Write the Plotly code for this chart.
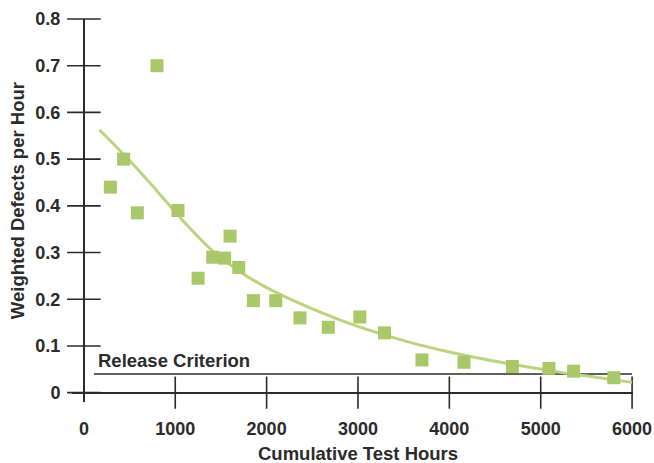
import plotly.graph_objects as go

# Observed data (cumulative test hours, weighted defects per hour)
hours = [290, 435, 585, 800, 1030, 1250, 1410, 1540, 1600, 1695, 1855, 2100,
         2365, 2675, 3020, 3290, 3700, 4160, 4690, 5090, 5360, 5800]
defects = [0.44, 0.50, 0.385, 0.70, 0.39, 0.245, 0.29, 0.288, 0.335, 0.268, 0.197, 0.197,
           0.16, 0.14, 0.162, 0.128, 0.07, 0.065, 0.056, 0.052, 0.046, 0.032]

# Fitted trend curve
fit_hours = [170, 500, 800, 1100, 1400, 1700, 2000, 2400, 2800, 3200, 3600, 4000,
             4400, 4800, 5200, 5600, 6000]
fit_defects = [0.563, 0.497, 0.432, 0.365, 0.305, 0.260, 0.225, 0.188, 0.156, 0.129, 0.106, 0.087,
               0.071, 0.057, 0.044, 0.033, 0.022]

# Release criterion
release_hours = [110, 6000]
release_level = [0.04, 0.04]
release_label = "Release Criterion"

x_ticks = [0, 1000, 2000, 3000, 4000, 5000, 6000]
x_ticktext = ["0", "1000", "2000", "3000", "4000", "5000", "6000"]
y_ticks = [0, 0.1, 0.2, 0.3, 0.4, 0.5, 0.6, 0.7, 0.8]
y_ticktext = ["0", "0.1", "0.2", "0.3", "0.4", "0.5", "0.6", "0.7", "0.8"]

x_title = "Cumulative Test Hours"
y_title = "Weighted Defects per Hour"

AXC = "#2b2b2b"
PT = "#a8c86a"
CURVE = "#bcd47f"
FONT = "Liberation Sans, Arial, sans-serif"
FS = 18.5
TFS = 18

fig = go.Figure()

# crossing tick marks drawn as line markers on the axes
fig.add_trace(go.Scatter(
    x=[0] * len(y_ticks), y=y_ticks, mode="markers", cliponaxis=False,
    marker=dict(symbol="line-ew", size=24, line=dict(color=AXC, width=1.6)),
    hoverinfo="skip", showlegend=False))
fig.add_trace(go.Scatter(
    x=x_ticks[1:], y=[0] * (len(x_ticks) - 1), mode="markers", cliponaxis=False,
    marker=dict(symbol="line-ns", size=23, line=dict(color=AXC, width=1.6)),
    hoverinfo="skip", showlegend=False))

# release criterion line
fig.add_trace(go.Scatter(
    x=release_hours, y=release_level, mode="lines",
    line=dict(color=AXC, width=1.6), hoverinfo="skip", showlegend=False))

# fitted curve
fig.add_trace(go.Scatter(
    x=fit_hours, y=fit_defects, mode="lines", line_shape="spline",
    line=dict(color=CURVE, width=3), showlegend=False))

# data points
fig.add_trace(go.Scatter(
    x=hours, y=defects, mode="markers", cliponaxis=False,
    marker=dict(symbol="square", size=13, color=PT, line=dict(width=0)),
    showlegend=False))

fig.add_annotation(x=release_hours[0] + 20, y=0.068, xref="x", yref="y",
                   text="<b>" + release_label + "</b>", showarrow=False,
                   xanchor="left", yanchor="middle",
                   font=dict(family=FONT, size=FS, color=AXC))

fig.add_annotation(x=3000, y=0, xref="x", yref="paper", yshift=-51,
                   text="<b>" + x_title + "</b>", showarrow=False,
                   xanchor="center", yanchor="middle",
                   font=dict(family=FONT, size=FS, color=AXC))

fig.add_annotation(x=0, y=0.41, xref="paper", yref="y", xshift=-55,
                   text="<b>" + y_title + "</b>", showarrow=False, textangle=-90,
                   xanchor="center", yanchor="middle",
                   font=dict(family=FONT, size=FS, color=AXC))

fig.update_layout(
    width=654, height=463,
    margin=dict(l=72, r=21, t=19, b=61, autoexpand=False),
    plot_bgcolor="white", paper_bgcolor="white",
    font=dict(family=FONT, size=FS, color=AXC),
    showlegend=False,
)
fig.update_xaxes(
    range=[-130, 6010], showgrid=False, showline=False, automargin=False,
    zeroline=True, zerolinecolor=AXC, zerolinewidth=1.6,
    tickmode="array", tickvals=x_ticks, ticktext=["<b>" + t + "</b>" for t in x_ticktext],
    ticks="outside", ticklen=10, tickcolor="rgba(0,0,0,0)", ticklabeloverflow="allow",
    tickfont=dict(family=FONT, size=TFS, color=AXC))
fig.update_yaxes(
    range=[-0.02, 0.8], showgrid=False, showline=False, automargin=False,
    zeroline=True, zerolinecolor=AXC, zerolinewidth=1.6,
    tickmode="array", tickvals=y_ticks, ticktext=["<b>" + t + "</b>" for t in y_ticktext],
    ticks="outside", ticklen=7, tickcolor="rgba(0,0,0,0)", ticklabeloverflow="allow",
    tickfont=dict(family=FONT, size=TFS, color=AXC))

# remove the page's default body margin so the figure fills the window exactly
fig.write_html(
    "out.html",
    config={"displayModeBar": False},
    post_script="document.body.style.margin='0';document.body.style.overflow='hidden';",
)
